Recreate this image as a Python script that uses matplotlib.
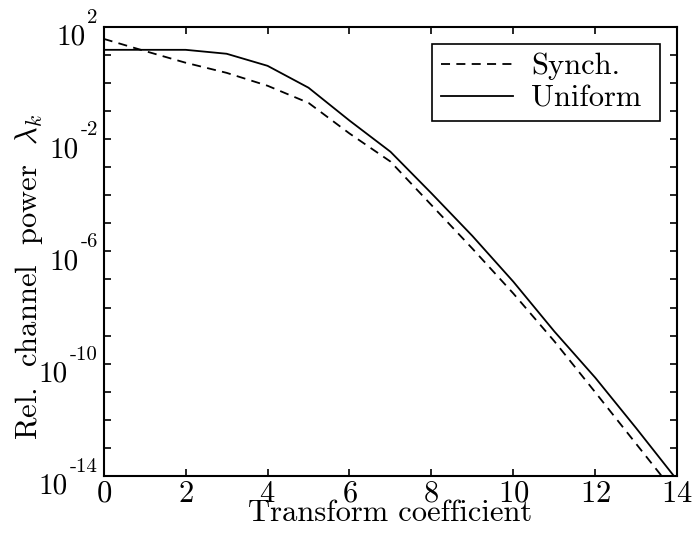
import numpy as np
import matplotlib
matplotlib.use('Agg')
import matplotlib.pyplot as plt
import matplotlib.transforms as mtransforms
from matplotlib.ticker import NullFormatter

# Computer Modern look (cmr10 ships with matplotlib)
plt.rcParams['font.family'] = 'serif'
plt.rcParams['font.serif'] = ['cmr10', 'DejaVu Serif']
plt.rcParams['mathtext.fontset'] = 'cm'
plt.rcParams['axes.formatter.use_mathtext'] = True

# Transform coefficient index
coeff = [0, 1, 2, 3, 4, 5, 6, 7, 8, 9, 10, 11, 12, 13, 14]
# log10 of relative channel power
log_synch = [1.57, 1.14, 0.72, 0.36, -0.10, -0.71, -1.80, -2.80, -4.35,
             -5.90, -7.50, -9.20, -11.02, -12.86, -14.70]
log_uniform = [1.18, 1.18, 1.18, 1.04, 0.61, -0.17, -1.34, -2.45, -3.93,
               -5.45, -7.08, -8.85, -10.50, -12.30, -14.15]
# decades that carry a label on the y axis
label_exps = [2, -2, -6, -10, -14]

synch = 10.0 ** np.array(log_synch)
uniform = 10.0 ** np.array(log_uniform)

fig = plt.figure(figsize=(6.96, 5.36), dpi=100)
ax = fig.add_axes([0.149, 0.112, 0.824, 0.838])

ax.semilogy(coeff, synch, 'k--', lw=1.3, dashes=(5, 3.5), label='Synch.')
ax.semilogy(coeff, uniform, 'k-', lw=1.3, label='Uniform ')

ax.set_xlim(0, 14)
ax.set_ylim(1e-14, 1e2)
ax.set_xticks(range(0, 15, 2))
ax.set_yticks([10.0 ** k for k in range(-14, 3)])
ax.minorticks_off()
ax.yaxis.set_major_formatter(NullFormatter())

ax.tick_params(which='both', direction='in', top=True, right=True,
               length=5, width=1.2, labelsize=22, pad=3)
for s in ax.spines.values():
    s.set_linewidth(1.5)

# MATLAB-style "10" with a raised small exponent
renderer = fig.canvas.get_renderer()
base = mtransforms.blended_transform_factory(ax.transAxes, ax.transData)
for k in label_exps:
    sup_tr = mtransforms.offset_copy(base, fig=fig, x=-6, y=4, units='dots')
    sup = ax.text(0, 10.0 ** k, '%d' % k, transform=sup_tr, fontsize=15,
                  ha='right', va='baseline', clip_on=False)
    w = sup.get_window_extent(renderer).width
    ten_tr = mtransforms.offset_copy(base, fig=fig, x=-6 - w - 2, y=-18,
                                     units='dots')
    ax.text(0, 10.0 ** k, '10', transform=ten_tr, fontsize=21,
            ha='right', va='baseline', clip_on=False)

ax.set_xlabel('Transform coefficient', fontsize=22, labelpad=-6)
ax.set_ylabel(r'Rel.  channel  power  $\lambda_k$', fontsize=22)
ax.yaxis.set_label_coords(-0.103, 0.443)

leg = ax.legend(loc='upper right', fontsize=22, frameon=True, fancybox=False,
                edgecolor='k', framealpha=1, handlelength=2.35,
                borderaxespad=0.55, labelspacing=0.15, borderpad=0.3,
                handletextpad=0.6)
leg.get_frame().set_linewidth(1.2)

plt.savefig('out.png', dpi=100)
